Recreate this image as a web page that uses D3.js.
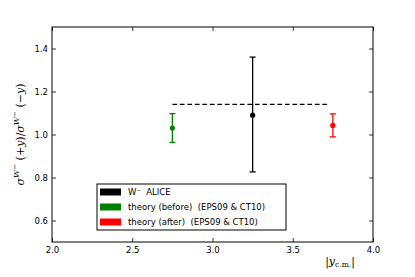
<!DOCTYPE html>
<html><head><meta charset="utf-8">
<script src="https://cdn.jsdelivr.net/npm/d3@7"></script>
<style>body{margin:0;background:#fff}svg{display:block}text{white-space:pre}</style>
</head><body>
<script>
const xTicks = [2.0, 2.5, 3.0, 3.5, 4.0];
const yTicks = [0.6, 0.8, 1.0, 1.2, 1.4];
const seriesNames = ["W\u207B  ALICE", "theory (before)  (EPS09 & CT10)", "theory (after)  (EPS09 & CT10)"];
const seriesColors = ["#000000", "#008000", "#ff0000"];
const seriesX = [3.25, 2.75, 3.75];
const seriesY = [1.09, 1.03, 1.042];
const seriesLow = [0.826, 0.963, 0.989];
const seriesHigh = [1.36, 1.097, 1.096];
const dashX = [2.75, 3.72];
const dashY = 1.14;

const W = 415, H = 277;
const m = {left: 52, right: 42, top: 27, bottom: 35};
const svg = d3.select("body").append("svg").attr("width", W).attr("height", H);
const x = d3.scaleLinear().domain([2.0, 4.0]).range([m.left, W - m.right]);
const y = d3.scaleLinear().domain([0.5, 1.5]).range([H - m.bottom, m.top]);
const font = "DejaVu Sans";

// dashed line
svg.append("line").attr("x1", x(dashX[0])).attr("x2", x(dashX[1]))
  .attr("y1", y(dashY)).attr("y2", y(dashY))
  .attr("stroke", "#000").attr("stroke-width", 1.1).attr("stroke-dasharray", "4.7,2.8");

// error bars
seriesX.forEach((xv, i) => {
  const g = svg.append("g").attr("stroke", seriesColors[i]).attr("stroke-width", 1.3);
  g.append("line").attr("x1", x(xv)).attr("x2", x(xv)).attr("y1", y(seriesLow[i])).attr("y2", y(seriesHigh[i]));
  [seriesLow[i], seriesHigh[i]].forEach(v => g.append("line")
    .attr("x1", x(xv) - 3).attr("x2", x(xv) + 3).attr("y1", y(v)).attr("y2", y(v)));
  svg.append("circle").attr("cx", x(xv)).attr("cy", y(seriesY[i])).attr("r", 2.6).attr("fill", seriesColors[i]);
});

// axes with inward ticks
const ax = svg.append("g").attr("transform", `translate(0,${H - m.bottom})`)
  .call(d3.axisBottom(x).tickValues(xTicks).tickFormat(d3.format(".1f")).tickSizeInner(-4).tickSizeOuter(0));
const ay = svg.append("g").attr("transform", `translate(${m.left},0)`)
  .call(d3.axisLeft(y).tickValues(yTicks).tickFormat(d3.format(".1f")).tickSizeInner(-4).tickSizeOuter(0));
const axT = svg.append("g").attr("transform", `translate(0,${m.top})`)
  .call(d3.axisTop(x).tickValues(xTicks).tickFormat("").tickSizeInner(-4).tickSizeOuter(0));
const ayR = svg.append("g").attr("transform", `translate(${W - m.right},0)`)
  .call(d3.axisRight(y).tickValues(yTicks).tickFormat("").tickSizeInner(-4).tickSizeOuter(0));
[ax, ay, axT, ayR].forEach(a => {
  a.select(".domain").remove();
  a.selectAll("text").attr("font-family", font).attr("font-size", 8.5).attr("fill", "#000");
  a.selectAll("line").attr("stroke", "#000").attr("stroke-width", 0.8);
});
ax.selectAll("text").attr("dy", "0.71em").attr("y", 5);
ay.selectAll("text").attr("x", -4);

// frame
svg.append("rect").attr("x", m.left).attr("y", m.top)
  .attr("width", W - m.left - m.right).attr("height", H - m.top - m.bottom)
  .attr("fill", "none").attr("stroke", "#000").attr("stroke-width", 1);

// y label
const yl = svg.append("text").attr("transform", `translate(24,${(m.top + H - m.bottom) / 2}) rotate(-90)`)
  .attr("text-anchor", "middle").attr("font-family", "DejaVu Serif").attr("font-size", 11);
yl.append("tspan").attr("font-style", "italic").text("σ");
yl.append("tspan").attr("font-style", "italic").attr("font-size", 8).attr("dy", -5).text("W");
yl.append("tspan").attr("font-size", 7).attr("dy", -2).text("−");
yl.append("tspan").attr("dy", 7).text(" (+");
yl.append("tspan").attr("font-style", "italic").text("y");
yl.append("tspan").text(")/");
yl.append("tspan").attr("font-style", "italic").text("σ");
yl.append("tspan").attr("font-style", "italic").attr("font-size", 8).attr("dy", -5).text("W");
yl.append("tspan").attr("font-size", 7).attr("dy", -2).text("−");
yl.append("tspan").attr("dy", 7).text(" (−");
yl.append("tspan").attr("font-style", "italic").text("y");
yl.append("tspan").text(")");

// x label
const xl = svg.append("text").attr("x", 340).attr("y", 265).attr("text-anchor", "middle")
  .attr("font-family", "DejaVu Serif").attr("font-size", 11);
xl.append("tspan").text("|");
xl.append("tspan").attr("font-style", "italic").text("y");
xl.append("tspan").attr("font-size", 7.5).attr("dy", 2).text("c.m.");
xl.append("tspan").attr("dy", -2).text("|");

// legend
const lg = svg.append("g").attr("transform", "translate(97,184)");
lg.append("rect").attr("width", 189).attr("height", 46).attr("fill", "#fff").attr("stroke", "#000").attr("stroke-width", 1);
seriesNames.forEach((n, i) => {
  const yy = 8 + i * 15;
  lg.append("rect").attr("x", 3).attr("y", yy - 3.5).attr("width", 21).attr("height", 7).attr("fill", seriesColors[i]);
  lg.append("text").attr("x", 31).attr("y", yy).attr("dy", "0.35em")
    .attr("font-family", font).attr("font-size", 8.5).text(n);
});
</script>
</body></html>
